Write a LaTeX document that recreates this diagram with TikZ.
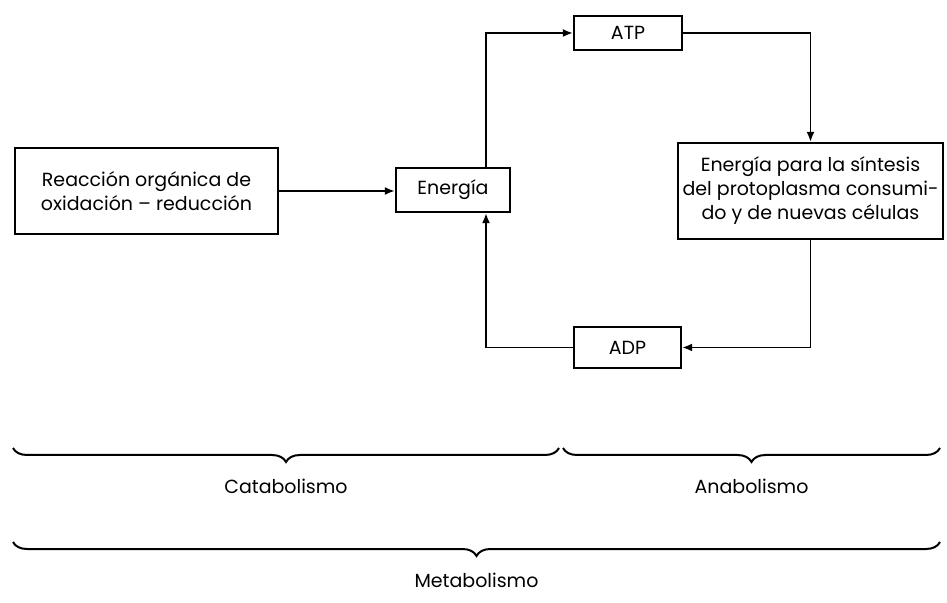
\documentclass[tikz,border=0pt]{standalone}
\usepackage{fontspec}
\setmainfont{Poppins}
\usetikzlibrary{arrows.meta,decorations.pathreplacing,calc}
\begin{document}
\begin{tikzpicture}
[x=0.5pt,y=-0.5pt,
  boxdecorate/.style={shape=rectangle,draw,line width=1.2pt,inner sep=0pt,align=center,font=\fontsize{9.5}{12}\selectfont},%
  linedecorate/.style={-{Latex[length=5pt,width=4pt]},line width=0.8pt},%
  bracedecorate/.style={decorate,decoration={brace,mirror,amplitude=7pt},line width=1pt},%
  labeldecorate/.style={font=\fontsize{9.5}{12}\selectfont}]
\useasboundingbox (0,0) rectangle (947,603);
%% boxes
\foreach \nodename/\x/\y/\w/\h/\txt in {
  reac/146.5/191/131.5pt/43pt/{Reacción orgánica de\\oxidación -- reducción},
  ener/453/190/57pt/22pt/{Energía},
  atp/628/33/54pt/17pt/{ATP},
  sint/810.5/191/132.5pt/48pt/{Energía para la síntesis\\del protoplasma consumi-\\do y de nuevas células},
  adp/627.5/347.5/53.5pt/20.5pt/{ADP}} {
  \node (\nodename) at (\x,\y) [boxdecorate,minimum width=\w,minimum height=\h] {\txt};
}
%% cycle through the energy box
\coordinate (lx) at (486,0);
\draw[linedecorate] (reac.east) -- (reac.east -| ener.west);
\draw[linedecorate] (lx |- ener.north) |- (atp.west);
\draw[linedecorate] (atp.east) -| (sint.north);
\draw[linedecorate] (sint.south) |- (adp.east);
\draw[linedecorate] (adp.west) -| (lx |- ener.south);
%% braces and their labels
\foreach \bname/\xa/\xb/\y/\txt in {
  cat/13/559/448/Catabolismo,
  ana/563/940/448/Anabolismo,
  met/13/940/542/Metabolismo} {
  \coordinate (\bname-a) at (\xa,\y);
  \coordinate (\bname-b) at (\xb,\y);
  \draw[bracedecorate] (\bname-a) -- (\bname-b);
  \node (\bname) at ($(\bname-a)!0.5!(\bname-b)$) [labeldecorate,yshift=-19pt] {\txt};
}
\end{tikzpicture}
\end{document}
